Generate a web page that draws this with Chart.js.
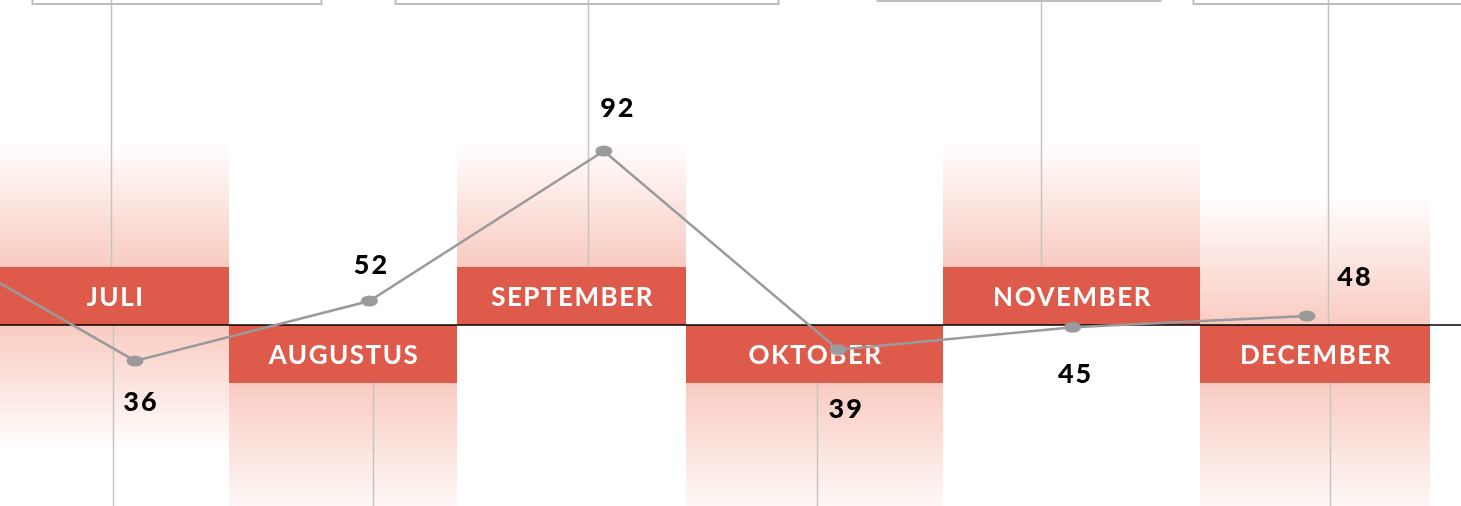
<!DOCTYPE html>
<html>
<head>
<meta charset="utf-8">
<script src="https://cdn.jsdelivr.net/npm/chart.js@4"></script>
<style>
  html, body { margin: 0; padding: 0; background: #fff; }
  #wrap { width: 1461px; height: 506px; position: relative; }
</style>
</head>
<body>
<div id="wrap"><canvas id="chart"></canvas></div>
<script>
// months (JUNI sits just off the left edge, only its line segment shows)
const MONTHS = ['JUNI', 'JULI', 'AUGUSTUS', 'SEPTEMBER', 'OKTOBER', 'NOVEMBER', 'DECEMBER'];
const VALUES = [72, 36, 52, 92, 39, 45, 48];
const BASELINE = 45.6;

const RED = '#DE5A4A';
const PINK = 'rgba(249,203,193,1)';
const PINK0 = 'rgba(249,203,193,0)';
const GREY = '#c4c4c4';

// per visible column: edges in x units, which side the label box sits, decorations
const COLS = [
  { from: -0.576, to: 0.401, side: 'up',   gradUp: 185, gradDown: 125, lineUp: -0.102, lineDown: -0.094, top: [-0.439, 0.794, 4] },
  { from: 0.401,  to: 1.374, side: 'down', gradDown: 181, lineDown: 1.015 },
  { from: 1.374,  to: 2.351, side: 'up',   gradUp: 185, lineUp: 1.933, top: [1.109, 2.743, 4] },
  { from: 2.351,  to: 3.447, side: 'down', gradDown: 181, lineDown: 2.909 },
  { from: 3.447,  to: 4.544, side: 'up',   gradUp: 185, lineUp: 3.865, top: [3.166, 4.373, 1] },
  { from: 4.544,  to: 5.525, side: 'down', gradUp: 130, gradDown: 181, lineUp: 5.09, lineDown: 5.1, top: [4.514, 5.75, 4] }
];
const BOX_H = 58;

// label offsets (px) from each point: [dx, dy]
const LABEL_OFF = [null, [5, 41], [1, -36], [13, -43], [7, 60], [2, 47], [47, -39]];

const decoPlugin = {
  id: 'deco',
  beforeDatasetsDraw(chart) {
    const { ctx, scales: { x, y }, chartArea } = chart;
    const b = Math.round(y.getPixelForValue(BASELINE));
    const bottom = chartArea.bottom;
    ctx.save();
    COLS.forEach((c, i) => {
      const x0 = Math.round(x.getPixelForValue(c.from));
      const x1 = Math.round(x.getPixelForValue(c.to));
      const w = x1 - x0;
      const upEdge = c.side === 'up' ? b - BOX_H : b;
      const downEdge = c.side === 'down' ? b + BOX_H : b;
      if (c.gradUp) {
        const g = ctx.createLinearGradient(0, b - c.gradUp, 0, upEdge);
        g.addColorStop(0, PINK0);
        g.addColorStop(1, PINK);
        ctx.fillStyle = g;
        ctx.fillRect(x0, b - c.gradUp, w, upEdge - (b - c.gradUp));
      }
      if (c.gradDown) {
        const end = Math.min(bottom + 20, downEdge + c.gradDown);
        const g = ctx.createLinearGradient(0, downEdge, 0, end);
        g.addColorStop(0, PINK);
        g.addColorStop(1, PINK0);
        ctx.fillStyle = g;
        ctx.fillRect(x0, downEdge, w, end - downEdge);
      }
      ctx.strokeStyle = GREY;
      ctx.lineWidth = 1.5;
      if (c.lineUp !== undefined) {
        const lx = Math.round(x.getPixelForValue(c.lineUp)) + 0.5;
        ctx.beginPath(); ctx.moveTo(lx, 0); ctx.lineTo(lx, upEdge); ctx.stroke();
      }
      if (c.lineDown !== undefined) {
        const lx = Math.round(x.getPixelForValue(c.lineDown)) + 0.5;
        ctx.beginPath(); ctx.moveTo(lx, downEdge); ctx.lineTo(lx, bottom); ctx.stroke();
      }
      if (c.top) {
        const tx0 = Math.round(x.getPixelForValue(c.top[0])) + 0.5;
        const tx1 = Math.round(x.getPixelForValue(c.top[1])) + 0.5;
        ctx.strokeStyle = '#bdbdbd';
        ctx.lineWidth = 2;
        ctx.strokeRect(tx0, -20, tx1 - tx0, 20 + c.top[2]);
      }
      // red month box
      const by = c.side === 'up' ? b - BOX_H : b;
      ctx.fillStyle = RED;
      ctx.fillRect(x0, by, w, BOX_H);
      ctx.fillStyle = '#fff';
      ctx.font = 'bold 26px Lato, "Open Sans", sans-serif';
      ctx.letterSpacing = '1.5px';
      ctx.textAlign = 'center';
      ctx.textBaseline = 'middle';
      ctx.fillText(MONTHS[i + 1], (x0 + x1) / 2 + 1, by + BOX_H / 2 + 2);
    });
    // baseline
    ctx.strokeStyle = '#000';
    ctx.lineWidth = 1.5;
    ctx.beginPath(); ctx.moveTo(chartArea.left, b); ctx.lineTo(chartArea.right, b); ctx.stroke();
    ctx.restore();
  },
  afterDatasetsDraw(chart) {
    const { ctx } = chart;
    const meta = chart.getDatasetMeta(0);
    ctx.save();
    ctx.fillStyle = '#000';
    ctx.font = '900 27px Lato, "Open Sans", sans-serif';
    ctx.letterSpacing = '2px';
    ctx.textAlign = 'center';
    ctx.textBaseline = 'middle';
    meta.data.forEach((pt, i) => {
      const off = LABEL_OFF[i];
      if (!off) return;
      ctx.fillText(String(VALUES[i]), pt.x + off[0] + 1, pt.y + off[1]);
    });
    ctx.restore();
  }
};

// points drawn as flat ellipses
const dot = document.createElement('canvas');
dot.width = 18; dot.height = 12;
(() => {
  const c = dot.getContext('2d');
  c.fillStyle = '#9a9a9c';
  c.beginPath(); c.ellipse(9, 6, 8.5, 5.5, 0, 0, Math.PI * 2); c.fill();
})();

new Chart(document.getElementById('chart'), {
  type: 'line',
  data: {
    datasets: [{
      data: VALUES.map((v, i) => ({ x: i - 1, y: v })),
      borderColor: '#9a9a9c',
      borderWidth: 2.5,
      pointStyle: dot,
      tension: 0
    }]
  },
  options: {
    responsive: true,
    maintainAspectRatio: false,
    animation: false,
    layout: { padding: 0, autoPadding: false },
    plugins: { legend: { display: false }, tooltip: { enabled: false } },
    scales: {
      x: { type: 'linear', min: -0.576, max: 5.657, display: false },
      y: { min: -2.7, max: 132.3, display: false }
    }
  },
  plugins: [decoPlugin]
});
</script>
</body>
</html>
